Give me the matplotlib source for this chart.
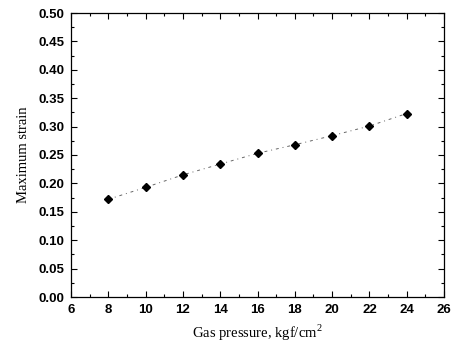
import matplotlib
matplotlib.use('Agg')
import matplotlib.pyplot as plt
from matplotlib.ticker import MultipleLocator

# data
pressure = [8, 10, 12, 14, 16, 18, 20, 22, 24]
strain = [0.172, 0.193, 0.215, 0.234, 0.253, 0.268, 0.284, 0.301, 0.323]

plt.rcParams['mathtext.fontset'] = 'custom'
plt.rcParams['mathtext.rm'] = 'Liberation Serif'

fig = plt.figure(figsize=(4.56, 3.44), dpi=100)
ax = fig.add_axes([71 / 456, 47 / 344, 373 / 456, 284 / 344])

ax.plot(pressure, strain, linestyle=(0, (3, 4, 1, 4)), color='#666666', linewidth=0.7)
ax.plot(pressure, strain, linestyle='none', marker='D', markersize=4.5, color='black')

ax.set_xlim(6, 26)
ax.set_ylim(0, 0.5)
ax.xaxis.set_major_locator(MultipleLocator(2))
ax.xaxis.set_minor_locator(MultipleLocator(1))
ax.yaxis.set_major_locator(MultipleLocator(0.05))
ax.yaxis.set_minor_locator(MultipleLocator(0.025))
ax.yaxis.set_major_formatter(plt.FormatStrFormatter('%.2f'))

ax.tick_params(which='both', direction='in', top=True, right=True, width=0.8)
ax.tick_params(which='major', length=4, pad=5)
ax.tick_params(which='minor', length=2)
for lbl in ax.get_xticklabels() + ax.get_yticklabels():
    lbl.set_family('Liberation Sans')
    lbl.set_fontsize(9.5)
    lbl.set_fontweight('bold')

for s in ax.spines.values():
    s.set_linewidth(0.9)

ax.set_xlabel(r'Gas pressure, kgf/cm$^{\mathrm{2}}$', family='Liberation Serif',
              fontsize=10.5, labelpad=5)
ax.set_ylabel('Maximum strain', family='Liberation Serif', fontsize=10.5, labelpad=6)

fig.savefig('out.png', dpi=100)
